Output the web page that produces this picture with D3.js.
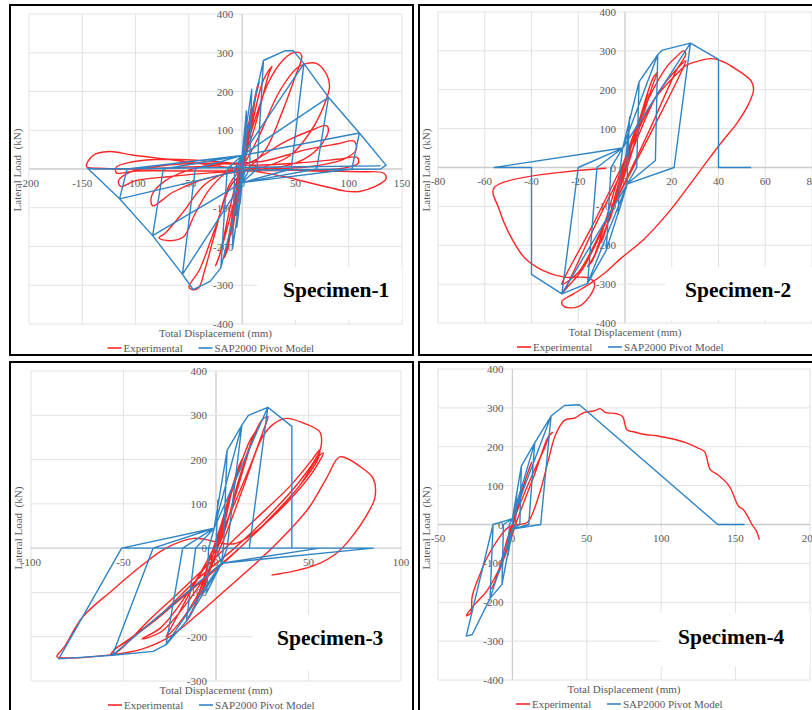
<!DOCTYPE html>
<html>
<head>
<meta charset="utf-8">
<script src="https://cdn.jsdelivr.net/npm/d3@7"></script>
<style>
  body { margin: 0; background: #fff; }
  text { font-family: "Liberation Serif", "Times New Roman", serif; }
</style>
</head>
<body>
<div id="chart"></div>
<script>
// Séries
const seriesNames = ["Experimental", "SAP2000 Pivot Model"];
const specimenNames = ["Specimen-1", "Specimen-2", "Specimen-3", "Specimen-4"];

// Graduations
const s1XTicks = [-200, -150, -100, -50, 0, 50, 100, 150];
const s2XTicks = [-80, -60, -40, -20, 0, 20, 40, 60, 80];
const s3XTicks = [-100, -50, 0, 50, 100];
const s4XTicks = [-50, 0, 50, 100, 150, 200];
const loadTicks = [-400, -300, -200, -100, 0, 100, 200, 300, 400];
const s3LoadTicks = [-300, -200, -100, 0, 100, 200, 300, 400];

// Specimen-1 : [déplacement (mm), charge (kN)]
const s1Experimental = [
  [0,0],[3,60],[6,120],[5,110],[1,10],[-3,-60],[-6,-120],[-5,-110],[-1,-10],
  [4,70],[9,160],[8,150],[2,20],[-4,-70],[-10,-170],[-9,-160],[-2,-20],
  [6,90],[14,210],[16,225],[13,190],[4,40],[-6,-80],[-14,-210],[-17,-230],[-14,-200],[-4,-30],
  [8,100],[20,230],[28,265],[25,245],[12,110],[0,5],[-10,-110],[-22,-230],[-25,-250],[-21,-220],[-8,-60],
  [10,110],[25,225],[38,280],[47,299],[54,300],[56,290],[50,240],[38,150],[22,50],[5,0],[-10,-40],[-25,-150],[-40,-260],[-50,-305],[-47,-311],[-41,-307],[-35,-260],[-25,-160],[-12,-40],[0,5],
  [15,80],[35,200],[52,262],[60,272],[69,273],[78,250],[82,215],[79,180],[65,100],[45,35],[20,5],[-10,-5],[-35,-40],[-55,-110],[-72,-165],[-78,-178],[-68,-185],[-55,-175],[-45,-120],[-30,-50],[-10,0],
  [10,20],[40,70],[65,100],[79,112],[81,100],[72,55],[50,15],[20,0],[-10,-10],[-40,-30],[-65,-60],[-84,-95],[-85,-70],[-72,-30],[-40,5],[-10,15],
  [20,20],[60,50],[90,65],[105,72],[107,50],[95,25],[60,5],[20,0],[-30,-10],[-70,-20],[-100,-30],[-114,-45],[-116,-30],[-105,-8],[-70,10],[-30,15],
  [10,10],[50,15],[90,25],[108,30],[109,15],[95,2],[50,-3],[0,-5],[-60,-5],[-100,-5],[-118,-10],[-118,5],[-104,18],[-70,25],[-30,20],[0,12],
  [30,0],[70,-5],[110,-7],[133,-11],[135,-25],[125,-45],[110,-58],[97,-57],[70,-40],[40,-20],[10,-5],[-30,10],[-70,25],[-103,36],[-125,45],[-140,35],[-146,6],[-135,2],[-100,0],[-50,5],[-20,8]
];
const s1Pivot = [
  [0,0],[2,90],[1,0],[0,-35],[-2,-90],[-1,0],[0,35],
  [4,150],[3,0],[0,-35],[-5,-150],[-4,0],[0,35],
  [9,205],[7,0],[0,-35],[-9,-205],[-7,0],[0,35],
  [20,280],[14,0],[0,-35],[-20,-255],[-14,0],[0,35],
  [20,280],[40,305],[48,305],[58,272],[46,0],[0,-35],[-20,-255],[-30,-290],[-46,-311],[-56,-272],[-44,0],[0,35],
  [58,272],[81,185],[70,0],[0,-35],[-56,-272],[-84,-172],[-74,0],[0,35],
  [81,185],[110,93],[103,0],[0,-35],[-84,-172],[-115,-77],[-108,0],[0,35],
  [110,93],[135,10],[130,0],[0,-3],[-115,-77],[-145,2],[-138,0],[130,8]
];

// Specimen-2
const s2Experimental = [
  [0,0],[3,60],[6,120],[5,105],[0,-5],[-4,-80],[-7,-140],[-6,-125],[0,5],
  [5,100],[10,190],[9,175],[2,20],[-5,-100],[-10,-190],[-9,-175],[-1,-5],
  [6,120],[12,230],[14,245],[12,215],[3,40],[-6,-120],[-14,-240],[-16,-255],[-13,-225],[-3,-30],
  [8,150],[18,260],[22,285],[25,300],[26,292],[22,250],[10,90],[-5,-100],[-18,-260],[-25,-310],[-27,-325],[-25,-305],[-12,-140],[2,30],
  [14,190],[24,265],[26,275],[24,245],[12,100],[-6,-110],[-20,-270],[-27,-300],[-26,-285],[-14,-150],[0,20],
  [12,170],[22,240],[26,262],[31,273],[37,280],[42,272],[47,255],[54,222],[55,200],[53,165],[48,115],[42,70],[35,15],[27,-50],[18,-120],[8,-185],[-2,-235],[-8,-268],[-14,-295],[-22,-325],[-27,-345],[-26,-358],[-20,-358],[-15,-330],[-13,-300],[-15,-285],[-19,-282],[-26,-282],[-35,-265],[-43,-232],[-50,-165],[-54,-105],[-56,-52],[-8,-2]
];
const s2Pivot = [
  [0,0],[2,130],[1,0],[1,-42],[-3,-120],[-2,0],[-1,50],
  [6,220],[5,0],[1,-42],[-8,-213],[-6,0],[-1,50],
  [6,220],[14,290],[13,18],[1,-42],[-8,-213],[-16,-298],[-12,0],[-1,50],
  [14,290],[16,302],[28,320],[21,0],[1,-42],[-16,-298],[-27,-325],[-20,0],[-1,50],
  [28,320],[21,0],[1,-42],[-27,-325],[-40,-275],[-40,0],[-56,0],[-1,50],
  [28,320],[40,278],[40,0],[54,0]
];

// Specimen-3
const s3Experimental = [
  [0,0],[4,70],[8,130],[7,115],[1,5],[-4,-60],[-8,-110],[-7,-100],[-1,-5],
  [6,100],[12,180],[14,200],[11,170],[3,30],[-6,-80],[-14,-150],[-16,-165],[-13,-145],[-3,-20],
  [8,120],[18,240],[22,265],[19,235],[6,60],[-8,-90],[-20,-170],[-27,-200],[-25,-185],[-10,-70],[3,20],
  [12,150],[20,250],[25,290],[28,297],[26,270],[15,150],[0,10],[-15,-100],[-30,-180],[-40,-205],[-30,-190],[-15,-120],[0,-20],
  [15,140],[25,250],[31,280],[38,293],[47,283],[56,263],[57,235],[55,210],[45,150],[30,80],[10,0],[-10,-70],[-30,-150],[-45,-200],[-55,-230],[-57,-242],[-52,-230],[-38,-170],[-20,-100],[0,-20],
  [20,60],[40,140],[52,200],[56,222],[55,200],[45,140],[25,50],[5,-30],[-15,-100],[-35,-170],[-52,-220],[-55,-228],[-48,-210],[-30,-150],[-10,-80],[10,-10],
  [30,70],[45,140],[56,210],[58,215],[52,170],[40,110],[25,50],[10,10],[-12,22],[-27,0],[-41,-42],[-56,-95],[-72,-155],[-82,-223],[-86,-245],[-80,-248],[-57,-241],[-40,-228],[-25,-200],[-10,-150],[5,-95],[20,-40],[35,20],[50,90],[60,160],[67,206],[78,184],[85,157],[86,116],[83,86],[72,18],[65,-12],[54,-38],[42,-52],[30,-61]
];
const s3Pivot = [
  [0,0],[1,108],[0,0],[3,-34],[-5,-100],[-4,0],[-1,45],
  [6,221],[4,0],[3,-34],[-16,-165],[-11,0],[-1,45],
  [6,221],[14,278],[6,0],[3,-34],[-16,-165],[-27,-218],[-18,0],[-1,45],
  [14,278],[17.5,300],[28,318],[18,0],[56,0],[3,-34],[-27,-218],[-34,-233],[-56,-242],[-34,0],[-1,45],
  [28,318],[41,275],[41,0],[85,0],[3,-34],[-56,-242],[-85,-250],[-51,0],[-1,45],[-51,0],[0,0],[85,0]
];

// Specimen-4
const s4Experimental = [
  [0,0],[3,40],[6,90],[5,80],[0,-5],[-3,-50],[-7,-100],[-6,-90],[0,0],
  [5,70],[11,140],[13,160],[10,130],[2,20],[-5,-80],[-12,-150],[-14,-165],[-11,-140],[-2,-20],
  [8,80],[16,150],[22,200],[25,230],[27,237],[24,225],[15,130],[4,20],[-6,-90],[-17,-170],[-24,-200],[-30,-228],[-31,-235],[-28,-228],[-27,-184],[-22,-130],[-17,-85],[-10,-40],[-3,-8],
  [4,0],[10,5],[18,77],[24,163],[29,231],[35,268],[42,274],[48,288],[55,292],[59,298],[62,289],[64,287],[70,285],[74,278],[77,244],[82,238],[90,231],[96,229],[104,223],[110,218],[117,210],[124,198],[129,188],[133,141],[138,128],[144,107],[147,90],[152,47],[155,39],[158,22],[161,0],[164,-17],[166,-39]
];
const s4Pivot = [
  [0,0],[3,80],[2,0],[0,-12],[-3,-80],[-2,0],[0,15],
  [6,150],[5,0],[0,-12],[-7,-154],[-6,0],[0,15],
  [6,150],[15,210],[11,0],[0,-12],[-7,-154],[-15,-190],[-13,0],[0,15],
  [15,210],[26,279],[19,0],[0,-12],[-15,-190],[-27,-283],[-31,-287],[-13,0],[0,15],
  [26,279],[35,306],[45,308],[138,0],[156,0]
];

// Mise en page des quatre cadres
const panels = [
  { exp: s1Experimental, piv: s1Pivot, xTicks: s1XTicks, yTicks: loadTicks,
    frame: [10, 5, 403, 350], plot: { left: 29, right: 402, top: 14, bottom: 324 },
    yTitle: [21, 170], label: [283, 297], box: [257, 267, 145, 53] },
  { exp: s2Experimental, piv: s2Pivot, xTicks: s2XTicks, yTicks: loadTicks,
    frame: [419, 5, 400, 350], plot: { left: 438, right: 812, top: 12, bottom: 323 },
    yTitle: [430, 170], label: [685, 297], box: [665, 267, 147, 53] },
  { exp: s3Experimental, piv: s3Pivot, xTicks: s3XTicks, yTicks: s3LoadTicks,
    frame: [10, 362, 403, 360], plot: { left: 31, right: 401, top: 371, bottom: 681 },
    yTitle: [22, 528], label: [277, 645], box: [253, 615, 147, 56] },
  { exp: s4Experimental, piv: s4Pivot, xTicks: s4XTicks, yTicks: loadTicks,
    frame: [419, 362, 400, 360], plot: { left: 438, right: 810, top: 369, bottom: 680 },
    yTitle: [430, 528], label: [678, 644], box: [660, 613, 150, 53] }
];

const colors = { exp: "#ff2626", piv: "#2f84c6" };

const svg = d3.select("#chart")
  .append("svg")
  .attr("width", 812)
  .attr("height", 710)
  .style("display", "block");

svg.append("rect").attr("width", 812).attr("height", 710).style("fill", "#fff");

panels.forEach((p, i) => {
  const g = svg.append("g");

  const x = d3.scaleLinear()
    .domain(d3.extent(p.xTicks))
    .range([p.plot.left, p.plot.right]);
  const y = d3.scaleLinear()
    .domain(d3.extent(p.yTicks))
    .range([p.plot.bottom, p.plot.top]);

  // Grille
  g.selectAll(".vgrid")
    .data(p.xTicks)
    .enter()
    .append("line")
    .attr("x1", d => x(d)).attr("x2", d => x(d))
    .attr("y1", p.plot.top).attr("y2", p.plot.bottom)
    .style("stroke", d => d === 0 ? "#cccccc" : "#e2e2e2")
    .style("stroke-width", d => d === 0 ? 1.3 : 1);

  g.selectAll(".hgrid")
    .data(p.yTicks)
    .enter()
    .append("line")
    .attr("x1", p.plot.left).attr("x2", p.plot.right)
    .attr("y1", d => y(d)).attr("y2", d => y(d))
    .style("stroke", d => d === 0 ? "#cccccc" : "#e2e2e2")
    .style("stroke-width", d => d === 0 ? 1.3 : 1);

  // Fond blanc sous le nom de l'éprouvette
  g.append("rect")
    .attr("x", p.box[0]).attr("y", p.box[1])
    .attr("width", p.box[2]).attr("height", p.box[3])
    .style("fill", "#fff");

  // Étiquettes des axes
  g.selectAll(".xlab")
    .data(p.xTicks)
    .enter()
    .append("text")
    .attr("x", d => x(d))
    .attr("y", y(0) + 17.5)
    .text(d => d)
    .style("font-size", "11px")
    .style("fill", "#595959")
    .style("text-anchor", "middle");

  g.selectAll(".ylab")
    .data(p.yTicks)
    .enter()
    .append("text")
    .attr("x", x(0) - 9)
    .attr("y", d => y(d) + 4)
    .text(d => d)
    .style("font-size", "11px")
    .style("fill", "#595959")
    .style("text-anchor", "end");

  const cx = (p.plot.left + p.plot.right) / 2;

  g.append("text")
    .attr("x", cx)
    .attr("y", p.plot.bottom + 13)
    .text("Total Displacement (mm)")
    .style("font-size", "11px")
    .style("fill", "#595959")
    .style("text-anchor", "middle");

  g.append("text")
    .attr("transform", `translate(${p.yTitle[0]}, ${p.yTitle[1]}) rotate(-90)`)
    .text("Lateral Load  (kN)")
    .style("white-space", "pre")
    .style("font-size", "11px")
    .style("fill", "#595959")
    .style("text-anchor", "middle");

  // Courbes
  const lineExp = d3.line()
    .x(d => x(d[0]))
    .y(d => y(d[1]))
    .curve(d3.curveCatmullRom.alpha(0.5));
  const linePiv = d3.line()
    .x(d => x(d[0]))
    .y(d => y(d[1]));

  g.append("path")
    .datum(p.exp)
    .attr("d", lineExp)
    .style("fill", "none")
    .style("stroke", colors.exp)
    .style("stroke-width", 1.4)
    .style("stroke-linejoin", "round");

  g.append("path")
    .datum(p.piv)
    .attr("d", linePiv)
    .style("fill", "none")
    .style("stroke", colors.piv)
    .style("stroke-width", 1.4)
    .style("stroke-linejoin", "round");

  // Légende
  const ly = p.plot.bottom + 24;
  const legend = g.append("g");
  [[cx - 108, colors.exp, seriesNames[0]], [cx - 17, colors.piv, seriesNames[1]]].forEach(([lx, c, name]) => {
    legend.append("line")
      .attr("x1", lx).attr("x2", lx + 14)
      .attr("y1", ly).attr("y2", ly)
      .style("stroke", c)
      .style("stroke-width", 1.6);
    legend.append("text")
      .attr("x", lx + 16)
      .attr("y", ly + 4)
      .text(name)
      .style("font-size", "11px")
      .style("fill", "#595959");
  });

  // Nom de l'éprouvette
  g.append("text")
    .attr("x", p.label[0])
    .attr("y", p.label[1])
    .text(specimenNames[i])
    .style("font-size", "21.5px")
    .style("font-weight", "bold")
    .style("fill", "#000");

  // Cadre
  g.append("rect")
    .attr("x", p.frame[0]).attr("y", p.frame[1])
    .attr("width", p.frame[2]).attr("height", p.frame[3])
    .style("fill", "none")
    .style("stroke", "#000")
    .style("stroke-width", 2);
});
</script>
</body>
</html>
